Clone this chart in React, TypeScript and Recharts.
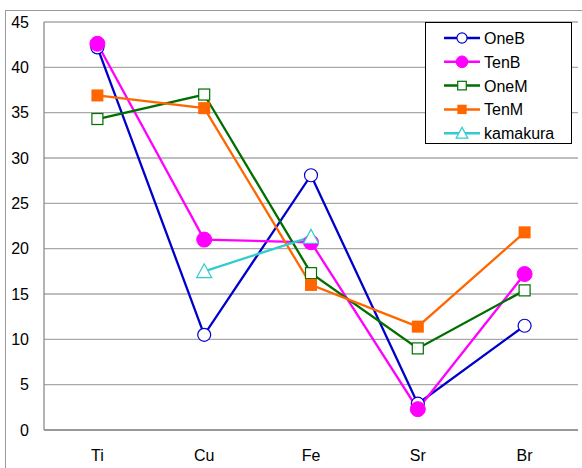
import { LineChart, Line, XAxis, YAxis, CartesianGrid } from 'recharts'

const elements = ['Ti', 'Cu', 'Fe', 'Sr', 'Br']
const oneB = [42.2, 10.5, 28.1, 2.9, 11.5]
const tenB = [42.6, 21.0, 20.7, 2.3, 17.2]
const oneM = [34.3, 37.0, 17.3, 9.0, 15.4]
const tenM = [36.9, 35.5, 16.0, 11.4, 21.8]
const kamakura = [null, 17.5, 21.3, null, null]
const yTicks = [0, 5, 10, 15, 20, 25, 30, 35, 40, 45]

const data = elements.map((el, i) => ({
  el,
  OneB: oneB[i],
  TenB: tenB[i],
  OneM: oneM[i],
  TenM: tenM[i],
  kamakura: kamakura[i],
}))

type Shape = 'circle' | 'filledCircle' | 'square' | 'filledSquare' | 'triangle'

const series: { key: string; color: string; shape: Shape }[] = [
  { key: 'OneB', color: '#0000cc', shape: 'circle' },
  { key: 'TenB', color: '#ff00ff', shape: 'filledCircle' },
  { key: 'OneM', color: '#006f00', shape: 'square' },
  { key: 'TenM', color: '#ff6600', shape: 'filledSquare' },
  { key: 'kamakura', color: '#33cccc', shape: 'triangle' },
]

const FONT = 'Liberation Sans, Arial, sans-serif'

function marker(shape: Shape, color: string, cx: number, cy: number, scale = 1, key?: string) {
  switch (shape) {
    case 'circle':
      return <circle key={key} cx={cx} cy={cy} r={6.5 * scale} fill="white" stroke={color} strokeWidth={1.2} />
    case 'filledCircle':
      return <circle key={key} cx={cx} cy={cy} r={7.5 * scale} fill={color} stroke={color} />
    case 'square': {
      const s = 5.5 * scale
      return <rect key={key} x={cx - s} y={cy - s} width={2 * s} height={2 * s} fill="white" stroke={color} strokeWidth={1.2} />
    }
    case 'filledSquare': {
      const s = 6 * scale
      return <rect key={key} x={cx - s} y={cy - s} width={2 * s} height={2 * s} fill={color} />
    }
    case 'triangle': {
      const s = 7.5 * scale
      return (
        <polygon
          key={key}
          points={`${cx},${cy - s} ${cx + s},${cy + s * 0.85} ${cx - s},${cy + s * 0.85}`}
          fill="white"
          stroke={color}
          strokeWidth={1.2}
        />
      )
    }
  }
}

function makeDot(shape: Shape, color: string) {
  return (props: any) => {
    const { cx, cy, value, index, dataKey } = props
    const k = `${dataKey}-${index}`
    if (value == null || cx == null || cy == null) return <g key={k} />
    return marker(shape, color, cx, cy, 1, k)
  }
}

function LegendBox() {
  return (
    <div
      style={{
        position: 'absolute',
        left: 425,
        top: 22,
        width: 147,
        height: 122,
        border: '1px solid #000',
        background: '#fff',
        boxSizing: 'border-box',
      }}
    >
      <svg width={147} height={122} style={{ position: 'absolute', left: 0, top: 0 }}>
        {series.map((s, i) => {
          const y = 15 + i * 23.8
          return (
            <g key={s.key}>
              <line x1={18} x2={54} y1={y} y2={y} stroke={s.color} strokeWidth={2.5} />
              {marker(s.shape, s.color, 36, y, 0.78)}
              <text x={58} y={y + 6} fontSize={16} fontFamily={FONT} fill="#000">
                {s.key}
              </text>
            </g>
          )
        })}
      </svg>
    </div>
  )
}

export default function App() {
  return (
    <div style={{ position: 'fixed', left: 0, top: 0, width: 582, height: 468, background: '#fff', overflow: 'hidden' }}>
      <div
        style={{
          position: 'absolute',
          left: 5,
          top: 10,
          width: 620,
          height: 520,
          border: '1.5px solid #9a9a9a',
        }}
      />
      <LineChart
        width={582}
        height={468}
        data={data}
        margin={{ top: 22, right: 4, left: 0, bottom: 0 }}
        style={{ position: 'absolute', left: 0, top: 0, fontFamily: FONT }}
      >
        <CartesianGrid vertical={false} stroke="#a8a8a8" strokeWidth={1.3} />
        <XAxis
          xAxisId="cat"
          dataKey="el"
          type="category"
          padding={{ left: 53.4, right: 53.4 }}
          tickLine={false}
          tickSize={0}
          tickMargin={20}
          height={38}
          axisLine={{ stroke: '#8c8c8c', strokeWidth: 1.3 }}
          tick={{ fontSize: 16, fill: '#000' }}
        />
        <XAxis
          xAxisId="bands"
          type="number"
          domain={[0, 5]}
          ticks={[1, 2, 3, 4, 5]}
          allowDataOverflow
          mirror
          tick={false}
          tickSize={4}
          tickLine={{ stroke: '#8c8c8c', strokeWidth: 1.3 }}
          axisLine={false}
        />
        <YAxis
          domain={[0, 45]}
          ticks={yTicks}
          width={44}
          tickLine={false}
          tickSize={0}
          tickMargin={15}
          axisLine={{ stroke: '#8c8c8c', strokeWidth: 1.3 }}
          tick={{ fontSize: 16, fill: '#000' }}
        />
        {series.map((s) => (
          <Line
            key={s.key}
            xAxisId="cat"
            dataKey={s.key}
            stroke={s.color}
            strokeWidth={2.3}
            type="linear"
            dot={makeDot(s.shape, s.color)}
            activeDot={false}
            isAnimationActive={false}
          />
        ))}
      </LineChart>
      <LegendBox />
    </div>
  )
}
